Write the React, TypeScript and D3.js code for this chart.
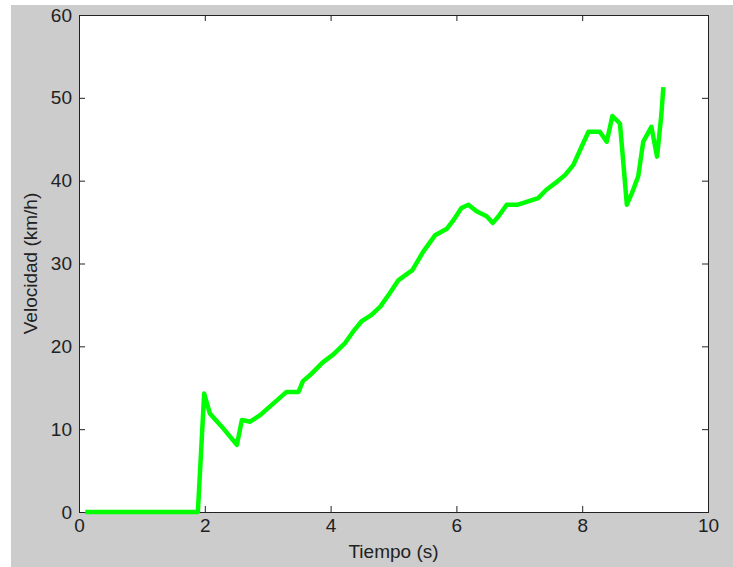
import React, { useEffect, useRef } from 'react'
import { select, scaleLinear, axisLeft, axisBottom, axisTop, axisRight, line } from 'd3'

// velocity vs time readings
const tiempo = [0.1, 1.89, 1.99, 2.08, 2.27, 2.51, 2.59, 2.72, 2.88, 3.06, 3.3, 3.49, 3.56, 3.67, 3.88, 4.04, 4.23, 4.36, 4.49, 4.65, 4.79, 4.94, 5.08, 5.3, 5.47, 5.66, 5.85, 5.95, 6.08, 6.19, 6.32, 6.48, 6.58, 6.67, 6.8, 6.98, 7.14, 7.3, 7.43, 7.57, 7.73, 7.86, 7.99, 8.1, 8.28, 8.39, 8.48, 8.6, 8.65, 8.71, 8.79, 8.89, 8.97, 9.1, 9.19, 9.26, 9.29]
const velocidad = [0, 0, 14.3, 11.9, 10.3, 8.1, 11.1, 10.9, 11.7, 12.9, 14.5, 14.5, 15.8, 16.5, 18.1, 19.0, 20.4, 21.8, 23.0, 23.8, 24.8, 26.4, 28.0, 29.2, 31.4, 33.4, 34.2, 35.2, 36.7, 37.1, 36.3, 35.7, 34.9, 35.7, 37.1, 37.1, 37.5, 37.9, 38.9, 39.7, 40.7, 41.9, 44.1, 45.9, 45.9, 44.7, 47.8, 46.9, 42.5, 37.1, 38.5, 40.5, 44.7, 46.5, 42.9, 48.1, 51.3]
const xTicks = [0, 2, 4, 6, 8, 10]
const yTicks = [0, 10, 20, 30, 40, 50, 60]

const W = 733
const H = 567
const m = { top: 15, right: 25, bottom: 55, left: 79 }
const FONT = '"Liberation Sans", Arial, sans-serif'

const App = () => {
    const ref = useRef<SVGSVGElement>(null)

    useEffect(() => {
        const svg = select(ref.current)
        svg.selectAll('*').remove()

        const x = scaleLinear().domain([0, 10]).range([m.left, W - m.right])
        const y = scaleLinear().domain([0, 60]).range([H - m.bottom, m.top])

        // grey figure background
        svg.append('rect').attr('x', 11).attr('y', 5).attr('width', W - 11).attr('height', H - 5).attr('fill', '#cccccc')
        svg.append('rect')
            .attr('x', m.left).attr('y', m.top)
            .attr('width', W - m.right - m.left).attr('height', H - m.bottom - m.top)
            .attr('fill', '#ffffff')

        const font = (g: any) => {
            g.select('.domain').remove()
            g.selectAll('line').attr('stroke', '#222')
            g.selectAll('text').attr('font-family', FONT).attr('font-size', 19).attr('fill', '#222')
        }

        svg.append('g').attr('transform', `translate(0,${H - m.bottom})`)
            .call(axisBottom(x).tickValues(xTicks).tickFormat((d: any) => `${d}`).tickSize(-6).tickPadding(7))
            .call(font)
        svg.append('g').attr('transform', `translate(${m.left},0)`)
            .call(axisLeft(y).tickValues(yTicks).tickFormat((d: any) => `${d}`).tickSize(-6).tickPadding(7))
            .call(font)
        // mirrored ticks, no labels
        svg.append('g').attr('transform', `translate(0,${m.top})`)
            .call(axisTop(x).tickValues(xTicks).tickFormat(() => '').tickSize(-6))
            .call(font)
        svg.append('g').attr('transform', `translate(${W - m.right},0)`)
            .call(axisRight(y).tickValues(yTicks).tickFormat(() => '').tickSize(-6))
            .call(font)

        // box
        svg.append('rect')
            .attr('x', m.left + 0.5).attr('y', m.top + 0.5)
            .attr('width', W - m.right - m.left).attr('height', H - m.bottom - m.top)
            .attr('fill', 'none').attr('stroke', '#222').attr('stroke-width', 1)

        const pts = tiempo.map((t, i) => [t, velocidad[i]] as [number, number])
        const path = line<[number, number]>().x(d => x(d[0])).y(d => y(d[1]))
        svg.append('path')
            .attr('d', path(pts))
            .attr('fill', 'none')
            .attr('stroke', '#00ff00')
            .attr('stroke-width', 4.5)
            .attr('stroke-linejoin', 'round')

        svg.append('text')
            .attr('x', (m.left + W - m.right) / 2).attr('y', 558)
            .attr('text-anchor', 'middle')
            .attr('font-family', FONT).attr('font-size', 19).attr('fill', '#222')
            .text('Tiempo (s)')
        svg.append('text')
            .attr('transform', `translate(37,${(m.top + H - m.bottom) / 2}) rotate(-90)`)
            .attr('text-anchor', 'middle')
            .attr('font-family', FONT).attr('font-size', 19).attr('fill', '#222')
            .text('Velocidad (km/h)')
    }, [])

    return (
        <svg ref={ref} width={W} height={H} style={{ position: 'absolute', left: 0, top: 0, display: 'block' }} />
    )
}

export default App
